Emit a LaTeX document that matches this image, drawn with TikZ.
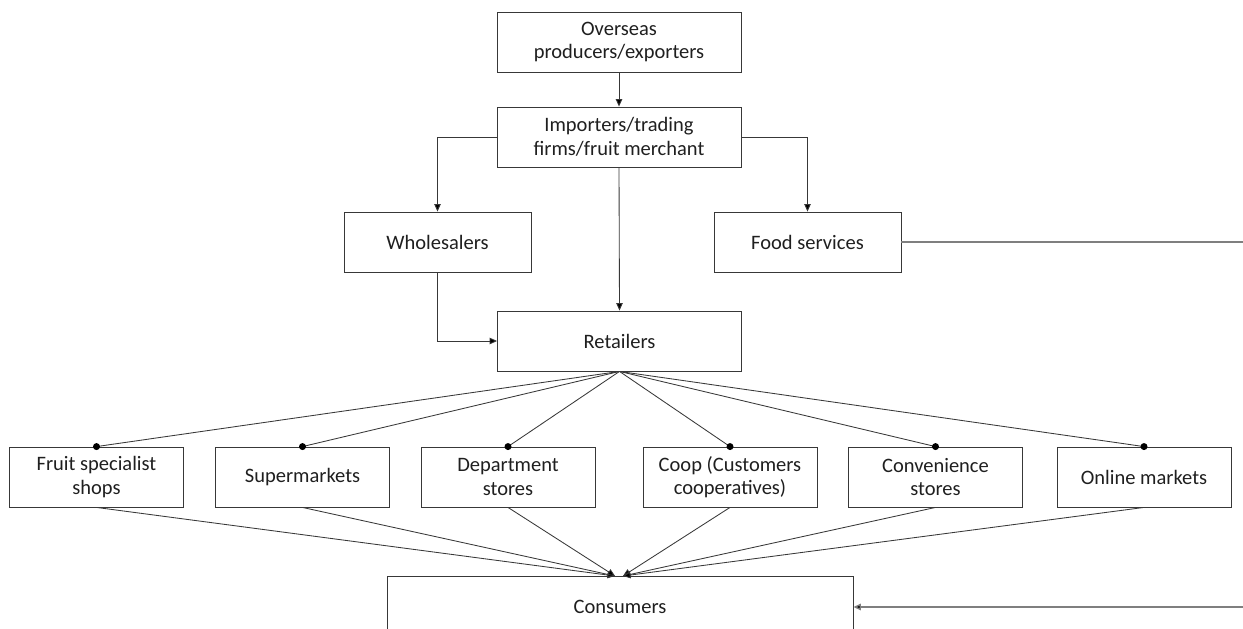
\documentclass[tikz,border=0pt]{standalone}
\usepackage{fontspec}
\setmainfont{Carlito}
\usetikzlibrary{arrows.meta}
\definecolor{linegray}{HTML}{383838}
\definecolor{textgray}{HTML}{1F1F1F}
\definecolor{feedgray}{HTML}{7F7F7F}
\begin{document}
\begin{tikzpicture}[x=1pt,y=-1pt,
  box/.style={draw=linegray, line width=0.85pt, text=textgray, align=center, inner sep=0pt,
    font=\fontsize{20.5}{23.5}\selectfont, minimum height=60pt},
  wide/.style={box, minimum width=244pt},
  mid/.style={box, minimum width=187pt},
  small/.style={box, minimum width=174pt},
  link/.style={draw=linegray, line width=0.85pt},
  tip/.style={-{Triangle[length=7.5pt,width=6.5pt,fill=black]}},
  arr/.style={link, tip},
  feed/.style={draw=feedgray, line width=1.4pt},
  dot/.style={circle, fill=black, inner sep=0pt, minimum size=7pt}]
\useasboundingbox (0,0) rectangle (1243,629);
\begin{scope}
\clip (0,0) rectangle (1243,629);
\node[wide] (over) at (619,42) {Overseas\\producers/exporters};
\node[wide] (imp) at (619,137) {Importers/trading\\firms/fruit merchant};
\node[mid] (whole) at (437.5,242) {Wholesalers};
\node[mid] (food) at (807.5,242) {Food services};
\node[wide] (ret) at (619.5,341) {Retailers};
\node[small] (fruit) at (96.5,477) {Fruit specialist\\shops};
\node[small] (super) at (302.5,477) {Supermarkets};
\node[small] (dept) at (508,477) {Department\\stores};
\node[small] (coop) at (730,477) {Coop (Customers\\cooperatives)};
\node[small] (conv) at (935.5,477) {Convenience\\stores};
\node[small] (online) at (1144,477) {Online markets};
\node[box, minimum width=466pt, minimum height=62pt] (cons) at (620,607) {Consumers};

\draw[arr] (over.south) -- (imp.north);
\draw[arr] (imp.west) -| (whole.north);
\draw[arr] (imp.east) -| (food.north);
\draw[arr] (imp.south) -- (ret.north);
\draw[arr] (whole.south) |- (ret.west);

\coordinate (fr) at (1243,242);
\coordinate (fr2) at (1243,607);
\draw[feed] (food.east) -- (fr);
\draw[feed, tip] (fr2) -- (cons.east);

\foreach \b in {fruit,super,dept,coop,conv,online}{
  \draw[link] (ret.south) -- (\b.north);
  \node[dot] at (\b.north) {};
}
\coordinate (cl) at (615,576);
\coordinate (cr) at (623,576);
\foreach \b in {fruit,super,dept}{
  \draw[arr] (\b.south) -- (cl);
}
\foreach \b in {coop,conv,online}{
  \draw[arr] (\b.south) -- (cr);
}
\end{scope}
\end{tikzpicture}
\end{document}
